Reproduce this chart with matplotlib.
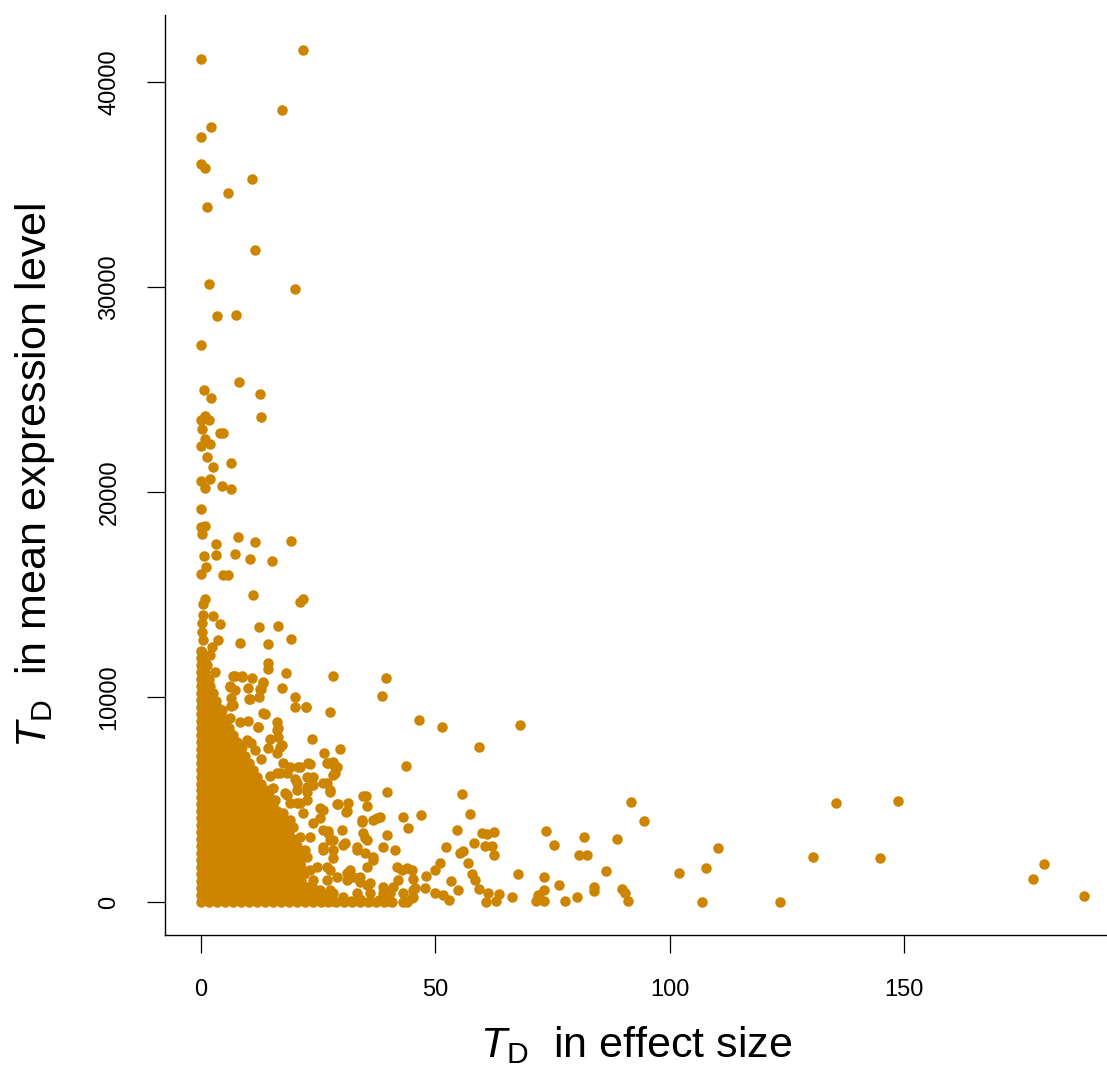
import matplotlib
matplotlib.use("Agg")
import matplotlib.pyplot as plt

plt.rcParams["font.family"] = ["Liberation Sans", "DejaVu Sans"]
plt.rcParams["mathtext.fontset"] = "custom"
plt.rcParams["mathtext.rm"] = "Liberation Sans"
plt.rcParams["mathtext.it"] = "Liberation Sans:italic"

# sparse points high up (mostly small effect size, large expression)
upper_x = [0.0, 21.7, 17.2, 2.1, 0.0, 0.0, 0.85, 10.8, 5.7, 1.3, 11.5, 1.8, 20.0,
           3.5, 7.5, 0.0, 8.2, 0.6, 2.1, 12.5, 12.9, 0.85, 0.0, 1.8, 0.15, 4.0, 4.8,
           0.85, 0.0, 1.9, 1.35, 6.5, 2.6, 0.0, 1.9, 0.85, 4.5, 6.5, 0.0, 0.0, 0.85,
           0.15, 8.0, 3.1, 11.6, 19.3, 0.7, 3.1, 7.2, 10.5, 15.2, 1.0, 0.0, 4.8, 5.8,
           11.0, 21.1, 21.8, 0.85, 0.4, 0.5, 2.6, 4.05, 0.15, 0.15, 0.5, 3.7, 2.3,
           0.15, 1.9, 12.4, 16.4, 8.3, 14.4, 19.1]
upper_y = [41120, 41550, 38630, 37820, 37330, 35980, 35820, 35270, 34590, 33890, 31800, 30150, 29900,
           28600, 28630, 27170, 25350, 24960, 24600, 24770, 23660, 23700, 23510, 23510, 23060, 22890, 22890,
           22570, 22240, 22330, 21720, 21410, 21240, 20540, 20620, 20180, 20280, 20150, 19160, 18310, 18340,
           17940, 17820, 17460, 17550, 17630, 16890, 16930, 16980, 16750, 16630, 16330, 16020, 15940, 15940,
           14990, 14650, 14780, 14780, 14540, 14010, 13950, 13560, 13600, 13190, 12780, 12780, 12450,
           12210, 12050, 13430, 13480, 12650, 12570, 12830]

# scattered points around the dense core
mid_x = [14.2, 14.2, 18.1, 28.1, 39.4, 38.7, 3.0, 7.3, 8.7, 10.8, 13.3, 6.2, 10.1, 12.6, 17.2,
         6.5, 10.3, 12.4, 20.0, 20.0, 22.3, 27.5, 3.2, 4.4, 6.5, 13.7, 16.2, 6.2, 8.3, 10.1,
         12.1, 23.6, 29.7, 16.5, 16.5, 17.2, 16.2, 26.2, 28.2, 26.8, 28.6, 28.2, 39.6, 17.6,
         20.8, 23.3, 14.7, 16.2, 18.3, 20.1, 22.6, 24.0, 26.1, 27.5, 20.4, 22.6, 22.6, 20.4,
         15.8, 18.3, 14.7, 25.4, 29.2, 31.4, 30.9, 35.1, 35.5, 38.2, 36.8, 39.6, 41.4, 38.9,
         21.8, 25.4, 30.0, 27.2, 30.4, 28.2, 34.3, 34.6, 33.2, 35.4, 35.0, 36.8, 35.4, 26.1,
         28.2, 26.8, 31.1, 32.5, 33.9, 36.1, 41.8, 42.1, 41.0, 38.9, 40.3, 22.6, 24.7, 24.0,
         22.6, 25.4, 28.2, 30.4, 34.6, 29.0, 31.1, 34.3, 37.5, 30.7, 35.0, 33.2, 36.8, 27.5,
         28.2, 26.1, 26.1, 27.2, 31.8, 33.9, 35.4, 31.1, 29.0, 27.5, 26.8, 26.1, 24.0, 23.3,
         19.0, 20.4, 22.6, 24.0, 26.8, 27.5, 28.6, 16.9, 17.9, 15.4, 19.0, 21.1, 19.7, 17.6,
         21.1, 22.2, 21.1, 23.3, 27.5, 33.2, 36.1, 38.9, 22.0, 24.0, 26.0, 28.0, 30.0, 32.0,
         34.0, 36.0, 38.0, 40.0, 6.9, 8.7, 13.3, 6.2, 7.3, 12.9, 10.5, 6.8, 22.4, 13.3, 16.3,
         12.2, 9.8, 8.7, 14.7, 14.4, 16.9, 29.0, 27.2, 19.0, 21.1, 22.9, 11.5, 12.8, 10.6]
mid_y = [11640, 11350, 11190, 11020, 10910, 10030, 11230, 11020, 10990, 10910, 10750, 10470, 10420, 10380, 10420,
         9940, 9890, 10010, 9990, 9500, 9530, 9280, 9820, 9370, 9560, 9170, 8800, 8960, 8800, 8840,
         8550, 7940, 7460, 8470, 8060, 7660, 7250, 7250, 6840, 6770, 6600, 6200, 5350, 6770,
         6600, 6730, 6150, 6280, 6280, 6000, 6110, 5710, 5790, 5380, 5460, 5380, 4980, 4810,
         4980, 5220, 5460, 4570, 4780, 4810, 4400, 5170, 4700, 4160, 4000, 3270, 2540, 2700,
         4330, 4080, 3510, 3480, 2780, 3020, 4000, 3350, 2700, 3020, 2380, 2210, 1720, 2700,
         2130, 1720, 1400, 1230, 990, 910, 1720, 1070, 750, 750, 420, 2210, 1720, 1070,
         750, 590, 420, 260, 5190, 4770, 4430, 3920, 4080, 2860, 3110, 2540, 2050, 3020,
         2540, 2540, 3510, 3350, 1560, 1230, 830, 1070, 1230, 1560, 1070, 4490, 3840, 3190,
         4000, 5790, 5630, 6110, 5790, 5460, 6280, 6280, 5300, 5540, 4810, 4810, 3670, 4330,
         3190, 2540, 1890, 1560, 590, 420, 420, 420, 120, 60, 150, 40, 100, 30,
         140, 60, 110, 30, 11020, 11020, 10700, 10540, 10340, 10380, 9890, 9610, 9530, 9200, 8390,
         8520, 7900, 7580, 7940, 7500, 7580, 6600, 6770, 6600, 6600, 6770, 7400, 7000, 7750]

# points with large effect size
tail_x = [46.5, 51.5, 68.1, 59.4, 43.7, 55.7, 91.7, 94.6, 110.4, 101.9, 107.7, 106.8, 43.0, 46.9,
          44.2, 57.3, 54.6, 52.3, 59.9, 61.0, 62.5, 58.3, 60.7, 62.0, 62.6, 55.3, 55.9, 73.6,
          75.3, 81.7, 80.7, 82.4, 88.8, 56.9, 50.9, 49.9, 45.0, 42.8, 48.0, 45.3, 47.8, 45.7,
          45.3, 43.2, 53.4, 54.8, 57.8, 58.5, 59.3, 50.0, 51.6, 52.9, 61.3, 63.6, 60.9, 63.0,
          67.7, 73.1, 73.2, 71.8, 71.5, 73.2, 66.3, 76.3, 77.7, 80.2, 83.9, 83.9, 86.4, 89.8,
          90.5, 91.1, 135.4, 148.8, 130.6, 144.9, 123.6, 179.8, 177.6, 188.4, 43.9, 45.3, 43.2,
          44.0, 45.0]
tail_y = [8860, 8550, 8620, 7560, 6630, 5250, 4890, 3940, 2650, 1430, 1670, 15, 4160, 4240,
          3610, 4280, 3510, 2680, 3380, 3300, 3430, 2890, 2750, 2750, 2280, 2380, 2500, 3450,
          2800, 3190, 2280, 2280, 3070, 1890, 1890, 1560, 1580, 1580, 1270, 1110, 670, 670,
          230, 15, 1040, 570, 1350, 1070, 620, 420, 330, 110, 420, 390, 0, 30,
          1380, 1200, 590, 330, 60, 30, 240, 810, 50, 240, 720, 550, 1510, 620,
          420, 60, 4830, 4940, 2180, 2130, 0, 1870, 1120, 310, 1640, 590, 420,
          20, 200]

# dense core near the origin, read row by row
core_row_y = [0, 340, 680, 1020, 1360, 1700, 2040, 2380, 2720, 3060, 3400, 3740, 4080,
              4420, 4760, 5100, 5440, 5780, 6120, 6460, 6800, 7140, 7480, 7820, 8160,
              8500, 8840, 9180, 9520, 9860, 10200, 10540, 10880, 11220, 11560, 11900, 12240]
core_row_x = [
    [0, 1.7, 3.4, 5.1, 6.8, 8.5, 10.2, 11.9, 13.6, 15.3, 17.0, 18.7, 20.4, 22.1, 23.8, 25.5,
     27.2, 28.9, 30.6, 32.3, 34.0, 35.7, 37.4, 39.1, 40.8],
    [0, 0.85, 2.55, 4.25, 5.95, 7.65, 9.35, 11.05, 12.75, 14.45, 16.15, 17.85, 19.55, 21.25,
     22.95, 24.65, 26.35],
    [0, 1.7, 3.4, 5.1, 6.8, 8.5, 10.2, 11.9, 13.6, 15.3, 17.0, 18.7, 20.4, 22.1, 23.8],
    [0, 0.85, 2.55, 4.25, 5.95, 7.65, 9.35, 11.05, 12.75, 14.45, 16.15, 17.85, 19.55, 21.25],
    [0, 1.7, 3.4, 5.1, 6.8, 8.5, 10.2, 11.9, 13.6, 15.3, 17.0, 18.7, 20.4, 22.0],
    [0, 0.85, 2.55, 4.25, 5.95, 7.65, 9.35, 11.05, 12.75, 14.45, 16.15, 17.85, 19.55, 21.25],
    [0, 1.7, 3.4, 5.1, 6.8, 8.5, 10.2, 11.9, 13.6, 15.3, 17.0, 18.7, 20.4],
    [0, 0.85, 2.55, 4.25, 5.95, 7.65, 9.35, 11.05, 12.75, 14.45, 16.15, 17.85, 19.55, 21.25],
    [0, 1.7, 3.4, 5.1, 6.8, 8.5, 10.2, 11.9, 13.6, 15.3, 17.0, 18.7, 20.4],
    [0, 0.85, 2.55, 4.25, 5.95, 7.65, 9.35, 11.05, 12.75, 14.45, 16.15, 17.85, 19.55],
    [0, 1.7, 3.4, 5.1, 6.8, 8.5, 10.2, 11.9, 13.6, 15.3, 17.0, 18.7],
    [0, 0.85, 2.55, 4.25, 5.95, 7.65, 9.35, 11.05, 12.75, 14.45, 16.15, 17.85],
    [0, 1.7, 3.4, 5.1, 6.8, 8.5, 10.2, 11.9, 13.6, 15.3, 17.0],
    [0, 0.85, 2.55, 4.25, 5.95, 7.65, 9.35, 11.05, 12.75, 14.45, 16.15],
    [0, 1.7, 3.4, 5.1, 6.8, 8.5, 10.2, 11.9, 13.6, 15.3],
    [0, 0.85, 2.55, 4.25, 5.95, 7.65, 9.35, 11.05, 12.75, 14.45],
    [0, 1.7, 3.4, 5.1, 6.8, 8.5, 10.2, 11.9, 13.6],
    [0, 0.85, 2.55, 4.25, 5.95, 7.65, 9.35, 11.05, 12.75],
    [0, 1.7, 3.4, 5.1, 6.8, 8.5, 10.2, 11.9],
    [0, 0.85, 2.55, 4.25, 5.95, 7.65, 9.35, 11.05],
    [0, 1.7, 3.4, 5.1, 6.8, 8.5, 10.2],
    [0, 0.85, 2.55, 4.25, 5.95, 7.65, 9.35],
    [0, 1.7, 3.4, 5.1, 6.8, 8.5],
    [0, 0.85, 2.55, 4.25, 5.95, 7.65],
    [0, 1.7, 3.4, 5.1, 6.8],
    [0, 0.85, 2.55, 4.25, 5.95],
    [0, 1.7, 3.4, 5.1],
    [0, 0.85, 2.55, 4.25],
    [0, 1.7, 3.4],
    [0, 0.85, 2.55],
    [0, 1.7, 2.6],
    [0, 0.85, 2.0],
    [0, 1.7],
    [0, 0.85],
    [0, 1.2],
    [0, 0.85],
    [0],
]

core_x, core_y = [], []
for yv, xs in zip(core_row_y, core_row_x):
    core_x += xs
    core_y += [yv] * len(xs)

all_x = core_x + mid_x + tail_x + upper_x
all_y = core_y + mid_y + tail_y + upper_y

fig = plt.figure(figsize=(11.07, 10.66), dpi=100)
ax = fig.add_axes([165 / 1107, 1 - 935 / 1066, 942 / 1107, 920 / 1066])

ax.scatter(all_x, all_y, s=57, color="#CD8500", linewidths=0, zorder=3)

ax.set_xlim(-7.68, 193.3)
ax.set_ylim(-1610, 43270)
ax.set_xticks([0, 50, 100, 150])
ax.set_yticks([0, 10000, 20000, 30000, 40000])
ax.set_yticklabels(["0", "10000", "20000", "30000", "40000"], rotation=90, va="center")

for side in ["top", "right"]:
    ax.spines[side].set_visible(False)
for side in ["left", "bottom"]:
    ax.spines[side].set_linewidth(1.0)
ax.tick_params(direction="out", length=13, width=0.9, labelsize=17, pad=19)

ax.set_xlabel(r"$T_{\mathrm{D}}$  in effect size", fontsize=31)
ax.set_ylabel(r"$T_{\mathrm{D}}$  in mean expression level", fontsize=31)
ax.xaxis.set_label_coords(0.5, -0.097)
ax.yaxis.set_label_coords(-0.115, 0.5)

fig.savefig("out.png", dpi=100)
